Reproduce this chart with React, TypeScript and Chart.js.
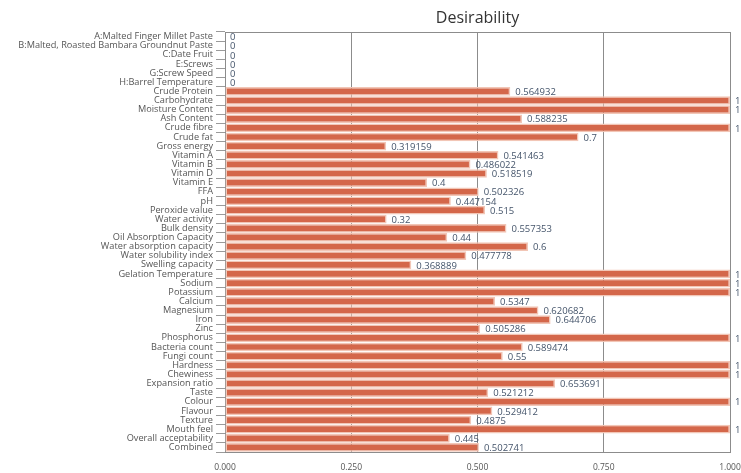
import React, { useEffect, useRef } from "react";
import { Chart, registerables } from "chart.js";

Chart.register(...registerables);

const categories: string[] = [
  "A:Malted Finger Millet Paste",
  "B:Malted, Roasted Bambara Groundnut Paste",
  "C:Date Fruit",
  "E:Screws",
  "G:Screw Speed",
  "H:Barrel Temperature",
  "Crude Protein",
  "Carbohydrate",
  "Moisture Content",
  "Ash Content",
  "Crude fibre",
  "Crude fat",
  "Gross energy",
  "Vitamin A",
  "Vitamin B",
  "Vitamin D",
  "Vitamin E",
  "FFA",
  "pH",
  "Peroxide value",
  "Water activity",
  "Bulk density",
  "Oil Absorption Capacity",
  "Water absorption capacity",
  "Water solubility index",
  "Swelling capacity",
  "Gelation Temperature",
  "Sodium",
  "Potassium",
  "Calcium",
  "Magnesium",
  "Iron",
  "Zinc",
  "Phosphorus",
  "Bacteria count",
  "Fungi count",
  "Hardness",
  "Chewiness",
  "Expansion ratio",
  "Taste",
  "Colour",
  "Flavour",
  "Texture",
  "Mouth feel",
  "Overall acceptability",
  "Combined",
];

const desirability: number[] = [
  0, 0, 0, 0, 0, 0,
  0.564932, 1, 1, 0.588235, 1, 0.7,
  0.319159, 0.541463, 0.486022, 0.518519, 0.4, 0.502326,
  0.447154, 0.515, 0.32, 0.557353, 0.44, 0.6,
  0.477778, 0.368889, 1, 1, 1, 0.5347,
  0.620682, 0.644706, 0.505286, 1, 0.589474, 0.55,
  1, 1, 0.653691, 0.521212, 1, 0.529412,
  0.4875, 1, 0.445, 0.502741,
];

const xTicks: number[] = [0, 0.25, 0.5, 0.75, 1];
const chartTitle = "Desirability";

const FONT = "'Open Sans', 'Noto Sans', sans-serif";

const titlePlugin = {
  id: "centerTitle",
  afterDraw(chart: any) {
    const { ctx, chartArea } = chart;
    ctx.save();
    ctx.font = `16px ${FONT}`;
    ctx.fillStyle = "#333333";
    ctx.textAlign = "center";
    ctx.textBaseline = "middle";
    ctx.fillText(chartTitle, (chartArea.left + chartArea.right) / 2, 18);
    ctx.restore();
  },
};

const valueLabelPlugin = {
  id: "valueLabels",
  afterDatasetsDraw(chart: any) {
    const { ctx } = chart;
    const meta = chart.getDatasetMeta(0);
    ctx.save();
    ctx.font = `9.5px ${FONT}`;
    ctx.fillStyle = "#44546a";
    ctx.textAlign = "left";
    ctx.textBaseline = "middle";
    meta.data.forEach((bar: any, i: number) => {
      const v = desirability[i];
      ctx.fillText(String(v), bar.x + 5, bar.y + 1);
    });
    ctx.restore();
  },
};

export default function App() {
  const ref = useRef<HTMLCanvasElement | null>(null);

  useEffect(() => {
    document.body.style.margin = "0";
    if (!ref.current) return;
    const chart = new Chart(ref.current, {
      type: "bar",
      data: {
        labels: categories,
        datasets: [
          {
            data: desirability,
            backgroundColor: "#d4674a",
            borderColor: "#f2c6b6",
            borderWidth: 1.5,
            borderSkipped: false,
            barPercentage: 0.95,
            categoryPercentage: 1,
          },
        ],
      },
      options: {
        indexAxis: "y",
        animation: false,
        responsive: false,
        maintainAspectRatio: false,
        layout: { padding: { top: 32, right: 11, left: 0, bottom: 0 } },
        plugins: {
          legend: { display: false },
          title: { display: false },
          tooltip: { enabled: false },
        },
        scales: {
          x: {
            min: 0,
            max: 1,
            afterBuildTicks(scale: any) {
              scale.ticks = xTicks.map((v) => ({ value: v }));
            },
            afterFit(scale: any) {
              scale.height = 21;
              scale.paddingLeft = 0;
              scale.paddingRight = 0;
            },
            ticks: {
              font: { family: FONT, size: 8.5 },
              color: "#555555",
              padding: 10,
              maxRotation: 0,
              callback: (v: any) => Number(v).toFixed(3),
            },
            grid: {
              color: "#8c8c8c",
              lineWidth: 1,
              tickLength: 0,
              drawTicks: false,
            },
            border: { display: true, color: "#8c8c8c" },
          },
          y: {
            afterFit(scale: any) {
              scale.width = 225;
              scale.paddingTop = 0;
              scale.paddingBottom = 0;
            },
            ticks: {
              autoSkip: false,
              font: { family: FONT, size: 9.2 },
              color: "#555555",
              padding: 3,
            },
            grid: {
              drawOnChartArea: false,
              drawTicks: true,
              tickLength: 9,
              color: "#9a9a9a",
            },
            border: { display: true, color: "#8c8c8c" },
          },
        },
      },
      plugins: [
        titlePlugin,
        valueLabelPlugin,
        {
          id: "frame",
          afterDraw(chart: any) {
            const { ctx, chartArea } = chart;
            ctx.save();
            ctx.strokeStyle = "#8c8c8c";
            ctx.lineWidth = 1;
            ctx.beginPath();
            ctx.moveTo(chartArea.left, chartArea.top + 0.5);
            ctx.lineTo(chartArea.right, chartArea.top + 0.5);
            ctx.stroke();
            ctx.restore();
          },
        },
      ],
    } as any);
    return () => chart.destroy();
  }, []);

  return (
    <div style={{ width: 741, height: 473, background: "#ffffff" }}>
      <canvas ref={ref} width={741} height={473} style={{ display: "block" }} />
    </div>
  );
}
